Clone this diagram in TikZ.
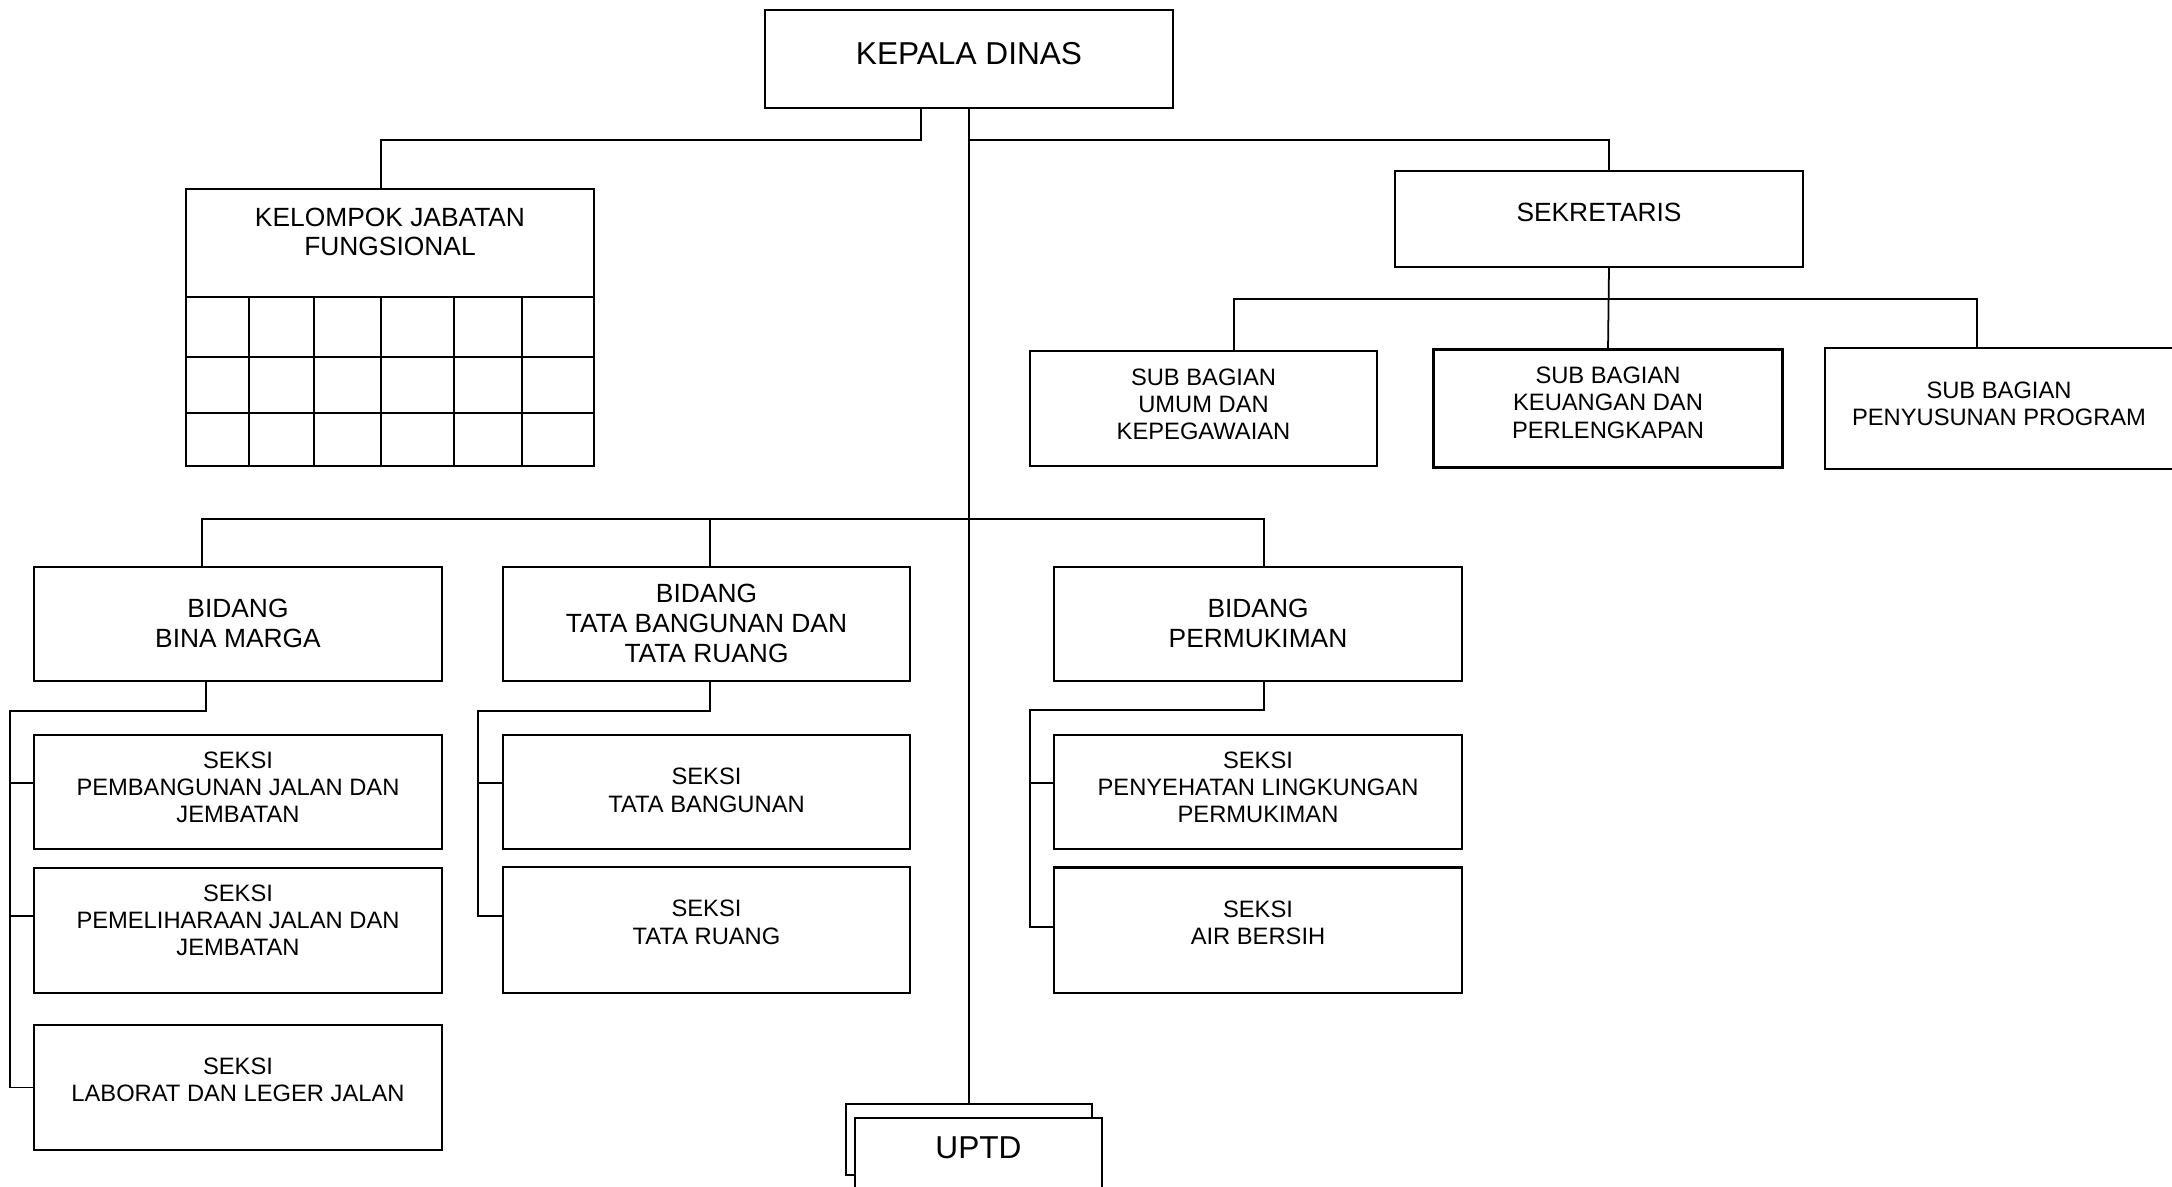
\documentclass[tikz,border=0pt]{standalone}
\usepackage{fontspec}
\setmainfont{Liberation Sans}
\usetikzlibrary{positioning}

\newcommand{\boxtext}[2]{\raisebox{#1}[\height][\depth]{\begin{tabular}{@{}c@{}}#2\end{tabular}}}

\begin{document}
\begin{tikzpicture}[x=0.2mm, y=-0.2mm,
  box/.style={draw, line width=1.2pt, inner sep=0pt, outer sep=0pt, fill=white},
  link/.style={line width=1pt},
  bigfont/.style={font=\fontsize{18}{21}\selectfont},
  midfont/.style={font=\fontsize{15}{17}\selectfont},
  smallfont/.style={font=\fontsize{13.5}{15.5}\selectfont}]

\useasboundingbox (0,0) rectangle (2172,1186);

\node[box, bigfont, minimum width=8.16cm, minimum height=1.96cm] (kepala) at (969,59) {\boxtext{0.04cm}{KEPALA DINAS}};

\node[box, midfont, minimum width=8.16cm, minimum height=2.16cm] (kjf) at (390,243) {\boxtext{0.16cm}{KELOMPOK JABATAN\\FUNGSIONAL}};

% table under kelompok jabatan
\draw[line width=1.2pt] (kjf.south west) rectangle (594,466);
\foreach \x in {249,314,381,454,522}
  \draw[link] (\x,297) -- (\x,466);
\foreach \y in {357,413}
  \draw[line width=1.2pt] (186,\y) -- (594,\y);

\node[box, midfont, minimum width=8.16cm, minimum height=1.92cm] (sek) at (1599,219) {\boxtext{0.06cm}{SEKRETARIS}};

\node[box, smallfont, minimum width=6.94cm, minimum height=2.3cm] (umum) at (1203.5,408.5) {\boxtext{0.03cm}{SUB BAGIAN\\UMUM DAN\\KEPEGAWAIAN}};
\node[box, smallfont, minimum width=6.98cm, minimum height=2.36cm, right=1.13cm of umum] (keuangan) {\boxtext{0.06cm}{SUB BAGIAN\\KEUANGAN DAN\\PERLENGKAPAN}};
\node[box, smallfont, minimum width=6.96cm, minimum height=2.42cm, right=0.85cm of keuangan] (program) {\boxtext{0.04cm}{SUB BAGIAN\\PENYUSUNAN PROGRAM}};

% bidang
\node[box, midfont, minimum width=8.16cm, minimum height=2.28cm] (bm) at (238,624) {\boxtext{-0.05cm}{BIDANG\\BINA MARGA}};
\node[box, midfont, minimum width=8.14cm, minimum height=2.28cm, right=1.22cm of bm] (tbtr) {\boxtext{-0.05cm}{BIDANG\\TATA BANGUNAN DAN\\TATA RUANG}};
\node[box, midfont, minimum width=8.16cm, minimum height=2.28cm, right=2.88cm of tbtr] (perm) {\boxtext{-0.05cm}{BIDANG\\PERMUKIMAN}};

% seksi
\node[box, smallfont, minimum width=8.16cm, minimum height=2.28cm, below=1.08cm of bm] (bm1) {\boxtext{0.04cm}{SEKSI\\PEMBANGUNAN JALAN DAN\\JEMBATAN}};
\node[box, smallfont, minimum width=8.16cm, minimum height=2.5cm, below=0.38cm of bm1] (bm2) {\boxtext{0.15cm}{SEKSI\\PEMELIHARAAN JALAN DAN\\JEMBATAN}};
\node[box, smallfont, minimum width=8.16cm, minimum height=2.5cm, below=0.64cm of bm2] (bm3) {\boxtext{0.1cm}{SEKSI\\LABORAT DAN LEGER JALAN}};

\node[box, smallfont, minimum width=8.14cm, minimum height=2.28cm, below=1.08cm of tbtr] (tb) {\boxtext{-0.02cm}{SEKSI\\TATA BANGUNAN}};
\node[box, smallfont, minimum width=8.14cm, minimum height=2.52cm, below=0.36cm of tb] (tr) {\boxtext{0.1cm}{SEKSI\\TATA RUANG}};

\node[box, smallfont, minimum width=8.16cm, minimum height=2.28cm, below=1.08cm of perm] (plp) {\boxtext{0.04cm}{SEKSI\\PENYEHATAN LINGKUNGAN\\PERMUKIMAN}};
\node[box, smallfont, minimum width=8.16cm, minimum height=2.51cm, below=0.37cm of plp] (ab) {\boxtext{0.1cm}{SEKSI\\AIR BERSIH}};

% uptd
\node[box, minimum width=4.92cm, minimum height=1.42cm] (uptdback) at (969,1139.5) {};
\node[box, bigfont, minimum width=4.94cm, minimum height=1.56cm] (uptd) at (978.5,1157) {\boxtext{0.12cm}{UPTD}};

% connectors
\draw[link] (kepala.south) -- (uptdback.north);
\draw[link] ([xshift=-0.96cm]kepala.south) -- ++(0,32) -| ([xshift=-0.18cm]kjf.north);
\draw[link] (kepala.south) ++(0,32) -| ([xshift=0.2cm]sek.north);

\draw[link] ([xshift=0.2cm]sek.south) -- (keuangan.north);
\draw[link] ([xshift=0.61cm]umum.north) -- ++(0,-52) -| ([xshift=-0.44cm]program.north);

\draw[link] ([xshift=-0.72cm]bm.north) -- ++(0,-48) -| ([xshift=0.12cm]perm.north);
\draw[link] ([xshift=0.07cm]tbtr.north) -- ++(0,-48);

\draw[link] ([xshift=-0.64cm]bm.south) -- ++(0,30) -| ([xshift=-0.48cm]bm3.west) -- (bm3.west);
\draw[link] ([yshift=0.18cm]bm1.west) -- ++(-24,0);
\draw[link] ([yshift=0.29cm]bm2.west) -- ++(-24,0);

\draw[link] ([xshift=0.07cm]tbtr.south) -- ++(0,30) -| ([xshift=-0.5cm, yshift=0.28cm]tr.west) -- ([yshift=0.28cm]tr.west);
\draw[link] ([yshift=0.18cm]tb.west) -- ++(-25,0);

\draw[link] ([xshift=0.12cm]perm.south) -- ++(0,29) -| ([xshift=-0.48cm, yshift=0.07cm]ab.west) -- ([yshift=0.07cm]ab.west);
\draw[link] ([yshift=0.18cm]plp.west) -- ++(-24,0);

\end{tikzpicture}
\end{document}
